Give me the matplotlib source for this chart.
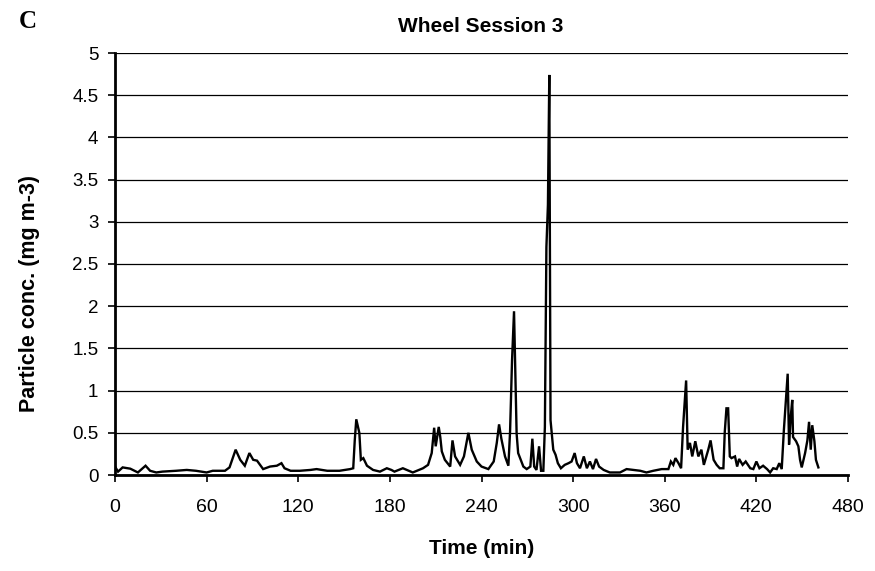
import matplotlib
matplotlib.use("Agg")
import matplotlib.pyplot as plt

time_min = [0, 2, 5, 10, 15, 20, 23, 27, 31, 40,
            47, 53, 60, 64, 72, 75, 79, 82, 85, 88,
            90.5, 93, 97, 101.5, 106, 109, 111, 115, 121, 128,
            132, 139, 147, 154, 156, 157, 158, 160, 161, 162.6,
            165, 169, 173.5, 178, 181, 183, 188.5, 195, 201.7, 205,
            207.4, 209, 210, 212, 213, 214, 216, 219.5, 221, 222.7,
            226, 228.5, 231.4, 233.6, 236.9, 240, 244.5, 248, 250, 251.5,
            253, 255.4, 257.6, 258.7, 260, 261.3, 262, 263, 264, 267.4,
            269.6, 272, 273.3, 274.5, 276, 277.7, 279, 280.5, 281.5, 282.5,
            283.5, 284.4, 285.2, 286, 287, 288.5, 290, 292, 294.5, 297,
            299, 301, 302.5, 304.5, 307, 309, 311, 313, 315, 317,
            320, 324, 330.7, 335, 339.5, 344, 348, 352.5, 358, 362.4,
            364, 365.6, 367, 369, 370.7, 372, 374, 375, 376.5, 378,
            380, 382, 384, 385.6, 388.5, 390, 392, 394, 396, 398.4,
            399.3, 400.4, 401.5, 402.6, 403.7, 406, 407.4, 408.7, 411, 413,
            416, 418, 420, 422, 424.4, 427, 429, 431, 433.3, 435,
            436.6, 438, 439.4, 440.5, 441.4, 442.5, 443.5, 444, 446, 447.5,
            448.6, 449.7, 451.9, 453.4, 454.5, 455.6, 456.6, 458, 459, 460.6]
conc = [0.10, 0.04, 0.09, 0.075, 0.03, 0.11, 0.05, 0.03, 0.04, 0.05,
        0.06, 0.05, 0.03, 0.05, 0.05, 0.09, 0.30, 0.18, 0.11, 0.26,
        0.18, 0.17, 0.07, 0.10, 0.11, 0.14, 0.08, 0.05, 0.05, 0.06,
        0.07, 0.05, 0.05, 0.07, 0.08, 0.41, 0.66, 0.50, 0.18, 0.20,
        0.11, 0.06, 0.04, 0.08, 0.06, 0.04, 0.08, 0.03, 0.08, 0.12,
        0.26, 0.56, 0.34, 0.57, 0.45, 0.28, 0.18, 0.10, 0.41, 0.22,
        0.12, 0.22, 0.50, 0.30, 0.16, 0.10, 0.07, 0.16, 0.38, 0.60,
        0.43, 0.22, 0.11, 0.51, 1.36, 1.94, 1.32, 0.49, 0.26, 0.10,
        0.07, 0.10, 0.43, 0.10, 0.06, 0.34, 0.05, 0.05, 0.57, 2.70,
        3.20, 4.74, 0.65, 0.49, 0.30, 0.24, 0.14, 0.08, 0.12, 0.14,
        0.16, 0.26, 0.14, 0.08, 0.22, 0.08, 0.16, 0.07, 0.19, 0.10,
        0.06, 0.03, 0.03, 0.07, 0.06, 0.05, 0.03, 0.05, 0.07, 0.07,
        0.16, 0.12, 0.20, 0.14, 0.08, 0.57, 1.12, 0.30, 0.38, 0.22,
        0.40, 0.22, 0.30, 0.12, 0.30, 0.41, 0.18, 0.12, 0.08, 0.08,
        0.51, 0.79, 0.79, 0.22, 0.20, 0.22, 0.10, 0.19, 0.12, 0.16,
        0.08, 0.07, 0.16, 0.08, 0.11, 0.07, 0.03, 0.08, 0.07, 0.14,
        0.07, 0.53, 0.91, 1.20, 0.36, 0.69, 0.89, 0.45, 0.40, 0.34,
        0.18, 0.09, 0.26, 0.41, 0.63, 0.30, 0.59, 0.40, 0.18, 0.09]

x_ticks = [0, 60, 120, 180, 240, 300, 360, 420, 480]
y_ticks = [0, 0.5, 1, 1.5, 2, 2.5, 3, 3.5, 4, 4.5, 5]
y_tick_labels = ["0", "0.5", "1", "1.5", "2", "2.5", "3", "3.5", "4", "4.5", "5"]

plt.rcParams['font.family'] = ['Liberation Sans', 'DejaVu Sans']

W, H = 875, 571
fig = plt.figure(figsize=(W / 100, H / 100), dpi=100)
L, R, T, B = 115, 848, 53, 475
ax = fig.add_axes([L / W, 1 - B / H, (R - L) / W, (B - T) / H])

ax.plot(time_min, conc, color='black', linewidth=1.7, solid_joinstyle='miter')

ax.set_xlim(0, 480)
ax.set_ylim(0, 5)
ax.set_xticks(x_ticks)
ax.set_yticks(y_ticks)
ax.set_yticklabels(y_tick_labels)
ax.tick_params(axis='both', direction='out', length=5, width=1.2, colors='black')
ax.tick_params(axis='x', labelsize=14, pad=12)
ax.tick_params(axis='y', labelsize=13.5, pad=7)
ax.yaxis.grid(True, color='black', linewidth=0.9)
ax.set_axisbelow(True)
for s in ['top', 'right']:
    ax.spines[s].set_visible(False)
for s in ['left', 'bottom']:
    ax.spines[s].set_linewidth(2.0)

ax.set_xlabel("Time (min)", fontsize=15, fontweight='bold')
ax.xaxis.set_label_coords(0.5, (B - 549) / (B - T))
ax.xaxis.label.set_va('center')
ax.set_ylabel("Particle conc. (mg m-3)", fontsize=15.5, fontweight='bold')
ax.yaxis.set_label_coords((30 - L) / (R - L), (B - 293) / (B - T))
ax.yaxis.label.set_va('center')

fig.text(481 / W, 1 - 27 / H, "Wheel Session 3", fontsize=15, fontweight='bold',
         ha='center', va='center')
fig.text(28 / W, 1 - 22 / H, "C", family='Liberation Serif', fontweight='bold', fontsize=18,
         ha='center', va='center')

fig.savefig("out.png", dpi=100)
